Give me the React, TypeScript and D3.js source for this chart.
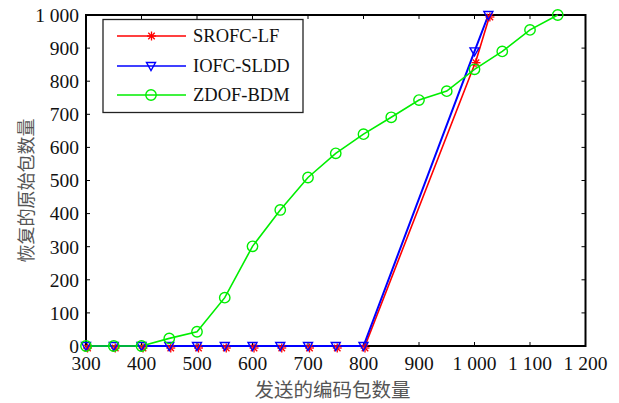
import React from "react";
import * as d3 from "d3";

const sentX = [300, 350, 400, 450, 500, 550, 600, 650, 700, 750, 800, 1000, 1025];
const srofcLF = [0, 0, 0, 0, 0, 0, 0, 0, 0, 0, 0, 862, 1000];
const iofcSLDD = [0, 0, 0, 0, 0, 0, 0, 0, 0, 0, 0, 890, 1000];
const zdofX = [300, 350, 400, 450, 500, 550, 600, 650, 700, 750, 800, 850, 900, 950, 1000, 1050, 1100, 1150];
const zdofBDM = [0, 0, 0, 23, 43, 146, 301, 411, 509, 582, 640, 691, 743, 770, 836, 890, 955, 1000];

const xTicks = [300, 400, 500, 600, 700, 800, 900, 1000, 1100, 1200];
const xTickLabels = ["300", "400", "500", "600", "700", "800", "900", "1 000", "1 100", "1 200"];
const yTicks = [0, 100, 200, 300, 400, 500, 600, 700, 800, 900, 1000];
const yTickLabels = ["0", "100", "200", "300", "400", "500", "600", "700", "800", "900", "1 000"];
const seriesNames = ["SROFC-LF", "IOFC-SLDD", "ZDOF-BDM"];
const seriesColors = ["#ff0000", "#0000ff", "#00ee00"];

const W = 619;
const H = 403;
const L = 86, R = 585.5, T = 15, B = 346;

const serif = "'Liberation Serif', 'Times New Roman', serif";
const cjk = "'Noto Sans CJK SC', sans-serif";

function Asterisk({ x, y, color }: { x: number; y: number; color: string }) {
  const r = 4.5;
  const d = r * 0.72;
  return (
    <g transform={`translate(${x + 1.5},${y + 2})`} stroke={color} strokeWidth={1.3}>
      <line x1={-r} y1={0} x2={r} y2={0} />
      <line x1={0} y1={-r} x2={0} y2={r} />
      <line x1={-d} y1={-d} x2={d} y2={d} />
      <line x1={-d} y1={d} x2={d} y2={-d} />
    </g>
  );
}

function TriDown({ x, y, color }: { x: number; y: number; color: string }) {
  const p = `${x - 4.5},${y - 3.5} ${x + 4.5},${y - 3.5} ${x},${y + 4.5}`;
  return <polygon points={p} fill="none" stroke={color} strokeWidth={1.4} />;
}

function Circ({ x, y, color }: { x: number; y: number; color: string }) {
  return <circle cx={x} cy={y} r={5.2} fill="none" stroke={color} strokeWidth={1.4} />;
}

export default function App() {
  const x = d3.scaleLinear().domain([300, 1200]).range([L, R]);
  const y = d3.scaleLinear().domain([0, 1000]).range([B, T]);
  const line = d3
    .line<[number, number]>()
    .x((d) => x(d[0]))
    .y((d) => y(d[1]));

  const redPts: [number, number][] = sentX.map((v, i) => [v, srofcLF[i]]);
  const bluePts: [number, number][] = sentX.map((v, i) => [v, iofcSLDD[i]]);
  const greenPts: [number, number][] = zdofX.map((v, i) => [v, zdofBDM[i]]);

  const legendRows = [36, 66, 95];

  return (
    <div style={{ position: "fixed", left: 0, top: 0, width: W, height: H, background: "#fff" }}>
      <svg width={W} height={H} style={{ display: "block" }}>
        <rect x={0} y={0} width={W} height={H} fill="#fff" />
        {/* ticks (inward) */}
        {xTicks.map((t) => (
          <g key={"xt" + t} stroke="#000" strokeWidth={1}>
            <line x1={x(t)} x2={x(t)} y1={B} y2={B - 4} />
            <line x1={x(t)} x2={x(t)} y1={T} y2={T + 4} />
          </g>
        ))}
        {yTicks.map((t) => (
          <g key={"yt" + t} stroke="#000" strokeWidth={1}>
            <line x1={L} x2={L + 4} y1={y(t)} y2={y(t)} />
            <line x1={R} x2={R - 4} y1={y(t)} y2={y(t)} />
          </g>
        ))}
        {/* box */}
        <rect x={L} y={T} width={R - L} height={B - T} fill="none" stroke="#000" strokeWidth={2} />
        {/* tick labels */}
        {xTicks.map((t, i) => (
          <text key={"xl" + t} x={x(t)} y={370} textAnchor="middle" fontFamily={serif} fontSize={19.5} fill="#111">
            {xTickLabels[i]}
          </text>
        ))}
        {yTicks.map((t, i) => (
          <text key={"yl" + t} x={79} y={y(t)} dy="0.35em" textAnchor="end" fontFamily={serif} fontSize={19.5} fill="#111">
            {yTickLabels[i]}
          </text>
        ))}
        {/* axis titles */}
        <text x={332.5} y={397} textAnchor="middle" fontFamily={cjk} fontSize={19.5} fill="#555">
          发送的编码包数量
        </text>
        <text
          transform={`translate(33,190.5) rotate(-90)`}
          textAnchor="middle"
          fontFamily={cjk}
          fontSize={18}
          fill="#555"
        >
          恢复的原始包数量
        </text>
        {/* series */}
        <path d={line(redPts) ?? ""} fill="none" stroke={seriesColors[0]} strokeWidth={1.6} transform="translate(1.5,0)" />
        <path d={line(bluePts) ?? ""} fill="none" stroke={seriesColors[1]} strokeWidth={2} />
        <path d={line(greenPts) ?? ""} fill="none" stroke={seriesColors[2]} strokeWidth={1.6} />
        {redPts.map((d, i) => (
          <Asterisk key={"r" + i} x={x(d[0])} y={y(d[1])} color={seriesColors[0]} />
        ))}
        {bluePts.map((d, i) => (
          <TriDown key={"b" + i} x={x(d[0])} y={y(d[1])} color={seriesColors[1]} />
        ))}
        {greenPts.map((d, i) => (
          <Circ key={"g" + i} x={x(d[0])} y={y(d[1])} color={seriesColors[2]} />
        ))}
        {/* legend */}
        <rect x={103} y={19.5} width={200} height={93} fill="#fff" stroke="#222" strokeWidth={1.3} />
        {seriesNames.map((name, i) => (
          <g key={name}>
            <line x1={117} x2={186} y1={legendRows[i]} y2={legendRows[i]} stroke={seriesColors[i]} strokeWidth={1.4} />
            {i === 0 && <Asterisk x={150} y={legendRows[i] - 2} color={seriesColors[i]} />}
            {i === 1 && <TriDown x={151} y={legendRows[i]} color={seriesColors[i]} />}
            {i === 2 && <Circ x={151} y={legendRows[i]} color={seriesColors[i]} />}
            <text x={193} y={legendRows[i]} dy="0.35em" fontFamily={serif} fontSize={18.5} fill="#111">
              {name}
            </text>
          </g>
        ))}
      </svg>
    </div>
  );
}
